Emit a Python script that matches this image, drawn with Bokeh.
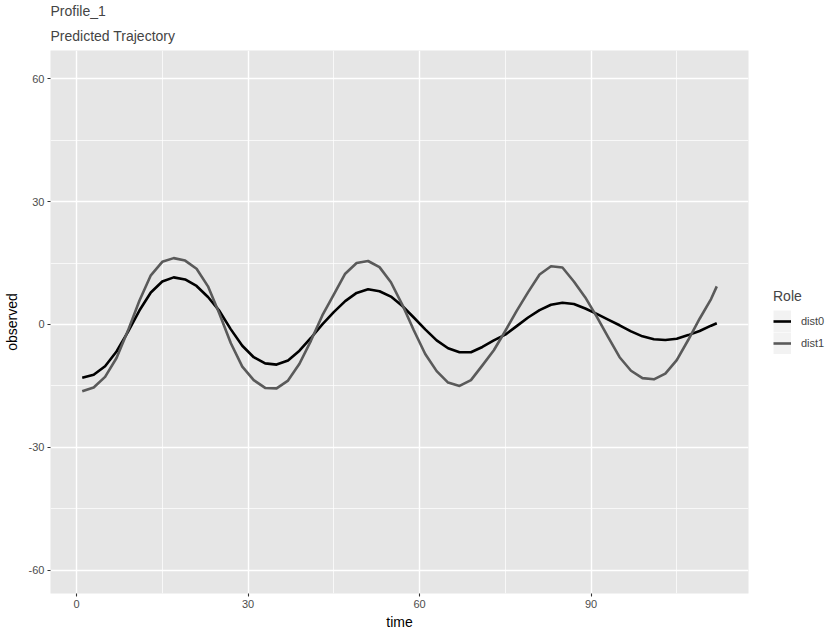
from bokeh.plotting import figure
from bokeh.models import Range1d, FixedTicker, Legend, LegendItem, Title
from bokeh.embed import file_html
from bokeh.resources import INLINE

# ---- data ----
time = [1, 3, 5, 7, 9, 11, 13, 15, 17, 19, 21, 23, 25, 27, 29, 31, 33, 35, 37, 39,
        41, 43, 45, 47, 49, 51, 53, 55, 57, 59, 61, 63, 65, 67, 69, 71, 73, 75, 77, 79,
        81, 83, 85, 87, 89, 91, 93, 95, 97, 99, 101, 103, 105, 107, 109, 111, 112]
dist0 = [-13.0, -12.3, -10.2, -6.6, -1.8, 3.4, 7.8, 10.5, 11.5, 11.0, 9.4, 6.7, 3.3, -1.2, -5.2, -8.0, -9.5, -9.8, -8.8, -6.4,
         -3.3, 0.0, 3.0, 5.7, 7.7, 8.6, 8.1, 6.8, 4.5, 1.7, -1.2, -3.9, -5.8, -6.8, -6.8, -5.5, -3.9, -2.5, -0.4, 1.7,
         3.5, 4.8, 5.3, 5.0, 3.9, 2.6, 1.2, -0.2, -1.7, -2.9, -3.6, -3.8, -3.5, -2.6, -1.6, -0.3, 0.3]
dist1 = [-16.3, -15.4, -12.8, -8.2, -1.5, 5.8, 12.0, 15.3, 16.2, 15.6, 13.6, 9.3, 2.6, -4.6, -10.3, -13.6, -15.5, -15.6, -13.7, -9.6,
         -4.0, 2.2, 7.3, 12.4, 15.0, 15.5, 14.0, 10.3, 4.8, -1.4, -7.2, -11.4, -14.2, -15.0, -13.6, -10.0, -6.3, -1.6, 3.3, 7.9,
         12.2, 14.2, 13.9, 10.5, 6.6, 1.9, -3.1, -8.0, -11.3, -13.1, -13.4, -12.0, -8.7, -3.8, 1.4, 6.2, 9.3]
roles = ["dist0", "dist1"]
role_colors = ["#000000", "#5A5A5A"]
x_ticks = [0, 30, 60, 90]
x_minor = [15, 45, 75, 105]
y_ticks = [-60, -30, 0, 30, 60]
y_minor = [-45, -15, 15, 45]
y_tick_labels = ["-60", "-30", "0", "30", "60"]

FONT = "Liberation Sans"

p = figure(frame_width=698, frame_height=543,
           x_range=Range1d(-4.55, 117.55), y_range=Range1d(-65.7, 66.9),
           output_backend="svg", toolbar_location=None,
           min_border_left=41, min_border_right=78, min_border_bottom=36, min_border_top=0)

p.background_fill_color = "#E6E6E6"
p.border_fill_color = "white"
p.outline_line_color = None

p.xaxis.ticker = FixedTicker(ticks=x_ticks, minor_ticks=x_minor)
p.yaxis.ticker = FixedTicker(ticks=y_ticks, minor_ticks=y_minor)
p.yaxis.major_label_overrides = {t: s for t, s in zip(y_ticks, y_tick_labels)}
for g in (p.xgrid, p.ygrid):
    g.grid_line_color = "white"
    g.grid_line_width = 1.4
    g.minor_grid_line_color = "white"
    g.minor_grid_line_width = 0.7

for ax in (p.xaxis, p.yaxis):
    ax.axis_line_color = None
    ax.major_tick_line_color = "#333333"
    ax.major_tick_line_width = 1.1
    ax.major_tick_out = 3
    ax.major_tick_in = 0
    ax.minor_tick_line_color = None
    ax.major_label_text_font = FONT
    ax.major_label_text_font_size = "11px"
    ax.major_label_text_color = "#4D4D4D"
    ax.major_label_standoff = 2
    ax.axis_label_text_font = FONT
    ax.axis_label_text_font_size = "14px"
    ax.axis_label_text_font_style = "normal"
    ax.axis_label_text_color = "black"
    ax.axis_label_standoff = 3

p.yaxis.axis_label_standoff = 6
p.xaxis.axis_label = "time"
p.yaxis.axis_label = "observed"

# legend key background: a thick line (kept outside the visible range) fills the key box
bg = p.line(x=[-1000, -999], y=[0, 0], line_color="#F2F2F2", line_width=22, line_cap="butt")
r0 = p.line(time, dist0, line_color=role_colors[0], line_width=2.6, line_join="round")
r1 = p.line(time, dist1, line_color=role_colors[1], line_width=2.6, line_join="round")

legend = Legend(items=[LegendItem(label=roles[0], renderers=[bg, r0]),
                       LegendItem(label=roles[1], renderers=[bg, r1])],
                title="Role", location=(25, 239),
                padding=0, margin=0, spacing=0,
                glyph_width=18, glyph_height=22, label_height=22,
                label_standoff=10,
                label_text_font=FONT, label_text_font_size="11px",
                title_text_font=FONT, title_text_font_size="14px",
                title_text_font_style="normal", title_standoff=6,
                border_line_color=None, background_fill_alpha=0)
p.add_layout(legend, "right")

p.add_layout(Title(text="Predicted Trajectory", text_font=FONT, text_font_size="14px",
                   text_font_style="normal", standoff=13), "above")
p.add_layout(Title(text="Profile_1", text_font=FONT, text_font_size="14px",
                   text_font_style="normal", standoff=1), "above")

open("out.html", "w").write(file_html(p, INLINE))
